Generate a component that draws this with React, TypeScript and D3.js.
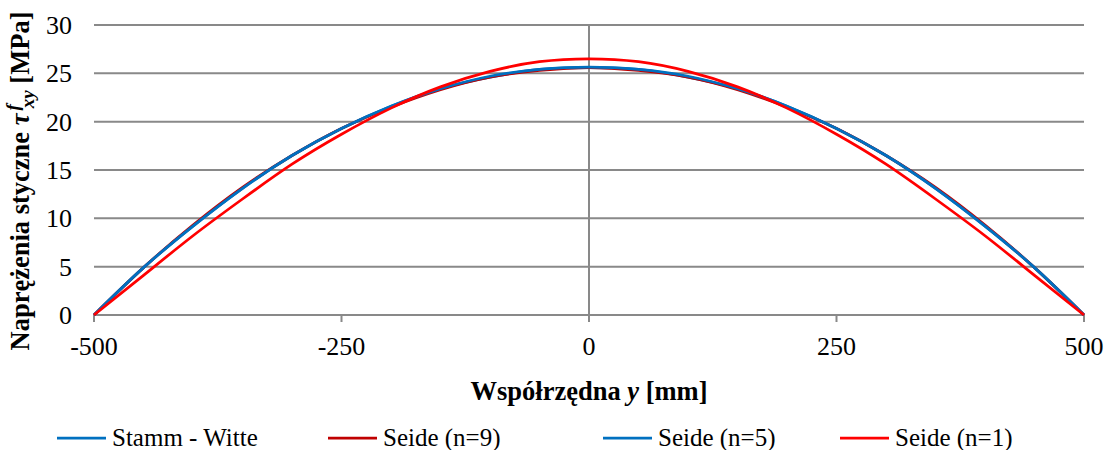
import React, { useEffect, useRef } from 'react';
import * as d3 from 'd3';

// współrzędna y [mm]
const yPositions = [-500, -450, -400, -350, -300, -250, -200, -150, -100, -50, 0, 50, 100, 150, 200, 250, 300, 350, 400, 450, 500];

// naprężenia styczne [MPa]
const stammWitte = [0, 4.9, 9.2, 13.1, 16.5, 19.3, 21.6, 23.4, 24.6, 25.4, 25.6, 25.4, 24.6, 23.4, 21.6, 19.3, 16.5, 13.1, 9.2, 4.9, 0];
const seide9 = [0, 4.9, 9.3, 13.2, 16.5, 19.3, 21.5, 23.3, 24.6, 25.3, 25.6, 25.3, 24.6, 23.3, 21.5, 19.3, 16.5, 13.2, 9.3, 4.9, 0];
const seide5 = [0, 4.9, 9.2, 13.1, 16.5, 19.3, 21.6, 23.4, 24.7, 25.4, 25.65, 25.4, 24.7, 23.4, 21.6, 19.3, 16.5, 13.1, 9.2, 4.9, 0];
const seide1 = [0, 4.1, 8.2, 12.0, 15.6, 18.7, 21.4, 23.6, 25.2, 26.2, 26.5, 26.2, 25.2, 23.6, 21.4, 18.7, 15.6, 12.0, 8.2, 4.1, 0];

const seriesNames = ['Stamm - Witte', 'Seide (n=9)', 'Seide (n=5)', 'Seide (n=1)'];
const seriesColors = ['#0070C0', '#C00000', '#0070C0', '#FF0000'];
const seriesValues = [stammWitte, seide9, seide5, seide1];

const xTicks = [-500, -250, 0, 250, 500];
const yTicks = [0, 5, 10, 15, 20, 25, 30];

const FONT = "'Liberation Serif', 'Times New Roman', serif";
const GRID = '#898989';

export default function App() {
  const ref = useRef<SVGSVGElement | null>(null);

  useEffect(() => {
    const svg = d3.select(ref.current);
    svg.selectAll('*').remove();

    const x = d3.scaleLinear().domain([-500, 500]).range([94, 1084]);
    const y = d3.scaleLinear().domain([0, 30]).range([315, 25]);

    // gridlines
    svg.append('g')
      .selectAll('line')
      .data(yTicks)
      .join('line')
      .attr('x1', x(-500))
      .attr('x2', x(500))
      .attr('y1', d => y(d))
      .attr('y2', d => y(d))
      .attr('stroke', GRID)
      .attr('stroke-width', 2);

    // vertical axis at 0
    svg.append('line')
      .attr('x1', x(0)).attr('x2', x(0))
      .attr('y1', y(30)).attr('y2', y(0) + 7)
      .attr('stroke', GRID).attr('stroke-width', 2);

    // x tick marks
    svg.append('g')
      .selectAll('line')
      .data(xTicks)
      .join('line')
      .attr('x1', d => x(d)).attr('x2', d => x(d))
      .attr('y1', y(0)).attr('y2', y(0) + 7)
      .attr('stroke', GRID).attr('stroke-width', 2);

    // tick labels
    svg.append('g')
      .selectAll('text')
      .data(yTicks)
      .join('text')
      .attr('x', 72)
      .attr('y', d => y(d) + 9)
      .attr('text-anchor', 'end')
      .style('font-family', FONT)
      .attr('font-size', 26)
      .attr('fill', '#000')
      .text(d => d);

    svg.append('g')
      .selectAll('text')
      .data(xTicks)
      .join('text')
      .attr('x', d => x(d))
      .attr('y', 355)
      .attr('text-anchor', 'middle')
      .style('font-family', FONT)
      .attr('font-size', 26)
      .attr('fill', '#000')
      .text(d => d);

    // lines
    const line = d3.line<number>()
      .x((_, i) => x(yPositions[i]))
      .y(d => y(d))
      .curve(d3.curveNatural);

    svg.append('g')
      .selectAll('path')
      .data(seriesValues)
      .join('path')
      .attr('fill', 'none')
      .attr('stroke', (_, i) => seriesColors[i])
      .attr('stroke-width', 2.75)
      .attr('d', d => line(d));

    // x title
    const xt = svg.append('text')
      .attr('x', 589)
      .attr('y', 400)
      .attr('text-anchor', 'middle')
      .style('font-family', FONT)
      .attr('font-size', 26.5)
      .attr('font-weight', 'bold');
    xt.append('tspan').text('Współrzędna ');
    xt.append('tspan').attr('font-style', 'italic').text('y');
    xt.append('tspan').text(' [mm]');

    // y title
    const yt = svg.append('text')
      .attr('transform', 'translate(29,181) rotate(-90)')
      .attr('text-anchor', 'middle')
      .style('font-family', FONT)
      .attr('font-size', 26.5)
      .attr('font-weight', 'bold');
    yt.append('tspan').text('Naprężenia styczne ');
    yt.append('tspan').attr('font-style', 'italic').text('τ');
    yt.append('tspan').attr('font-style', 'italic').attr('font-size', 19).attr('dy', -10).attr('dx', 3).text('f');
    yt.append('tspan').attr('font-style', 'italic').attr('font-size', 19).attr('dy', 15).attr('dx', -4).text('xy');
    yt.append('tspan').attr('dy', -5).text(' [MPa]');

    // legend
    const legendX = [57, 328, 603, 840];
    const lg = svg.append('g')
      .selectAll('g')
      .data(seriesNames)
      .join('g')
      .attr('transform', (_, i) => `translate(${legendX[i]},438)`);
    lg.append('line')
      .attr('x1', 0).attr('x2', 49)
      .attr('y1', 0).attr('y2', 0)
      .attr('stroke', (_, i) => seriesColors[i])
      .attr('stroke-width', 2.75);
    lg.append('text')
      .attr('x', 55)
      .attr('y', 8)
      .style('font-family', FONT)
      .attr('font-size', 25)
      .attr('fill', '#000')
      .text(d => d);
  }, []);

  return (
    <svg
      ref={ref}
      width={1111}
      height={450}
      style={{ position: 'absolute', left: 0, top: 0, background: '#fff' }}
    />
  );
}
